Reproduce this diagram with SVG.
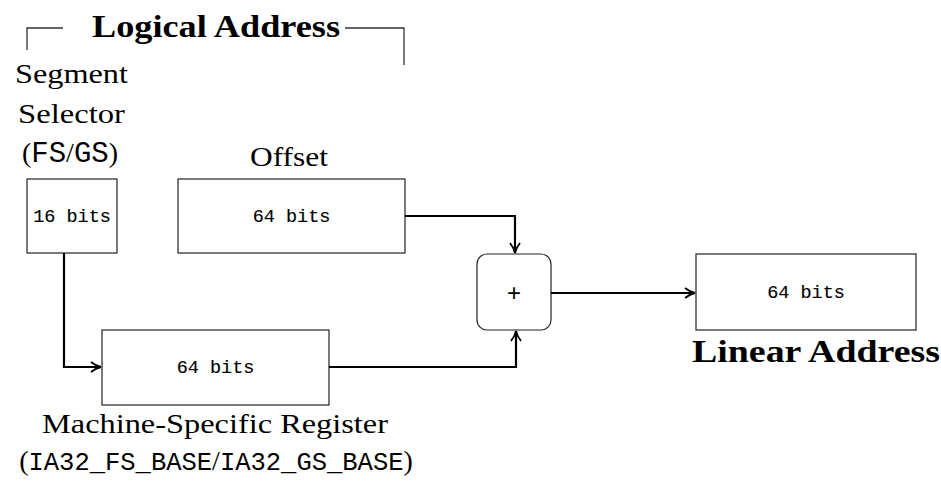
<svg xmlns="http://www.w3.org/2000/svg" width="941" height="485" viewBox="0 0 941 485">
<style>
.box{fill:#fff;stroke:#222;stroke-width:1.2}
.conn{fill:none;stroke:#000;stroke-width:2.2}
.br{fill:none;stroke:#333;stroke-width:1.3}
.serif{font-family:"Liberation Serif","DejaVu Serif",serif;font-size:28px;fill:#000}
.bold{font-family:"Liberation Serif","DejaVu Serif",serif;font-size:31px;font-weight:bold;fill:#000}
.mono{font-family:"Liberation Mono","DejaVu Sans Mono",monospace;font-size:18.5px;fill:#000;stroke:#000;stroke-width:0.15}
.tt{font-family:"Liberation Mono","DejaVu Sans Mono",monospace}
</style>
<defs>
<marker id="arr" viewBox="0 0 12 12" refX="11" refY="6" markerWidth="12" markerHeight="12" orient="auto" markerUnits="userSpaceOnUse">
<path d="M1,1 Q6,5 11,6 Q6,7 1,11" fill="none" stroke="#000" stroke-width="1.8"/>
</marker>
</defs>
<g id="logical-address">
<path class="br" d="M27,50 V28 H63"/>
<path class="br" d="M345,28 H404 V65"/>
<text class="bold" x="216" y="37" text-anchor="middle" textLength="248" lengthAdjust="spacingAndGlyphs">Logical Address</text>
</g>
<g id="segment-selector">
<text class="serif" x="71.5" y="83" text-anchor="middle" textLength="113" lengthAdjust="spacingAndGlyphs">Segment</text>
<text class="serif" x="71.5" y="123" text-anchor="middle" textLength="107" lengthAdjust="spacingAndGlyphs">Selector</text>
<text class="serif" x="70" y="162" text-anchor="middle">(<tspan class="tt" font-size="29">FS</tspan>/<tspan class="tt" font-size="29">GS</tspan>)</text>
<rect class="box" x="27" y="179" width="90" height="74"/>
<text class="mono" x="72" y="222" text-anchor="middle">16 bits</text>
</g>
<g id="offset">
<text class="serif" x="289" y="166" text-anchor="middle" textLength="78" lengthAdjust="spacingAndGlyphs">Offset</text>
<rect class="box" x="178" y="179" width="227" height="74"/>
<text class="mono" x="291.5" y="222" text-anchor="middle">64 bits</text>
</g>
<g id="msr">
<rect class="box" x="102" y="330" width="227" height="75"/>
<text class="mono" x="215.5" y="373" text-anchor="middle">64 bits</text>
<text class="serif" x="215" y="433" text-anchor="middle" textLength="346" lengthAdjust="spacingAndGlyphs">Machine-Specific Register</text>
<text class="serif" x="216" y="470" text-anchor="middle">(<tspan class="tt" font-size="25.5">IA32_FS_BASE</tspan>/<tspan class="tt" font-size="25.5">IA32_GS_BASE</tspan>)</text>
</g>
<g id="adder">
<rect class="box" x="477" y="254" width="74" height="76" rx="10" ry="10"/>
<text x="514" y="301" text-anchor="middle" font-family="Liberation Sans, sans-serif" font-size="24">+</text>
</g>
<g id="linear-address">
<rect class="box" x="696" y="254" width="220" height="76"/>
<text class="mono" x="806" y="298" text-anchor="middle">64 bits</text>
<text class="bold" x="816" y="362" text-anchor="middle" textLength="248" lengthAdjust="spacingAndGlyphs">Linear Address</text>
</g>
<g id="connectors">
<path class="conn" d="M64,253 V367 H101" marker-end="url(#arr)"/>
<path class="conn" d="M405,216 H515 V253" marker-end="url(#arr)"/>
<path class="conn" d="M329,367 H516 V331" marker-end="url(#arr)"/>
<path class="conn" d="M551,293 H695" marker-end="url(#arr)"/>
</g>
</svg>
